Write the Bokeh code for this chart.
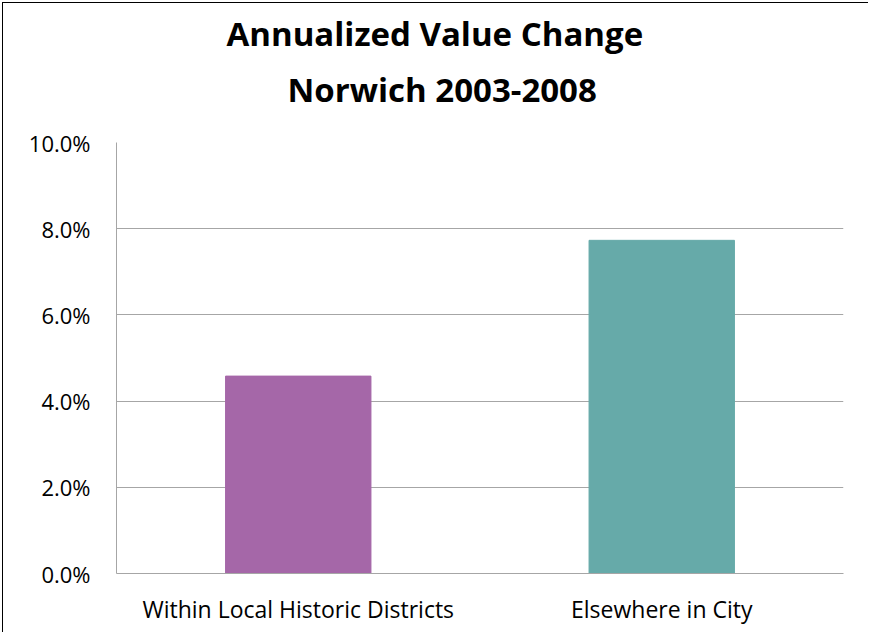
from bokeh.plotting import figure
from bokeh.models import FixedTicker, NumeralTickFormatter, Title, ColumnDataSource, Range1d, FactorRange
from bokeh.embed import file_html
from bokeh.resources import INLINE

categories = ["Within Local Historic Districts", "Elsewhere in City"]
values = [0.0458, 0.0773]
colors = ["#A567A8", "#66AAA9"]
y_ticks = [0.0, 0.02, 0.04, 0.06, 0.08, 0.10]
title_lines = ["Annualized Value Change", "Norwich 2003-2008"]

FONT = "Open Sans"

source = ColumnDataSource(dict(cat=categories, val=values, color=colors))

p = figure(
    x_range=FactorRange(*categories, range_padding=0),
    y_range=Range1d(0, 0.10),
    width=866, height=630,
    output_backend="svg", toolbar_location=None,
    min_border_left=113, min_border_right=26,
    min_border_top=139, min_border_bottom=60,
)
p.styles = {"border-left": "1px solid #000", "border-top": "1px solid #000",
            "margin-left": "2px", "margin-top": "2px"}
p.outline_line_color = None
p.background_fill_color = "white"
p.border_fill_color = "white"

p.vbar(x="cat", top="val", width=0.4, color="color", source=source)

p.xgrid.grid_line_color = None
p.ygrid.grid_line_color = "#a6a6a6"
p.ygrid.grid_line_width = 1
p.yaxis.ticker = FixedTicker(ticks=y_ticks)
p.yaxis.formatter = NumeralTickFormatter(format="0.0%")

for ax in (p.xaxis[0], p.yaxis[0]):
    ax.axis_line_color = "#a6a6a6"
    ax.axis_line_width = 1
    ax.major_tick_line_color = None
    ax.minor_tick_line_color = None
    ax.major_tick_out = 0
    ax.major_tick_in = 0
    ax.major_label_text_font = FONT
    ax.major_label_text_color = "#000000"

p.yaxis.major_label_text_font_size = "22px"
p.xaxis.major_label_text_font_size = "23px"
p.yaxis.major_label_standoff = 26
p.xaxis.major_label_standoff = 19

p.title.text = title_lines[0]
p.title.align = "left"
p.title.offset = 110
p.title.standoff = -44
p.title.text_font = FONT
p.title.text_font_size = "33px"
p.title.text_font_style = "bold"
p.title.text_color = "#000000"

p.add_layout(Title(text=title_lines[1], align="left", offset=171, standoff=62,
                   text_font=FONT, text_font_size="33px", text_font_style="bold",
                   text_color="#000000"), "above")

open("out.html", "w").write(file_html(p, INLINE))
